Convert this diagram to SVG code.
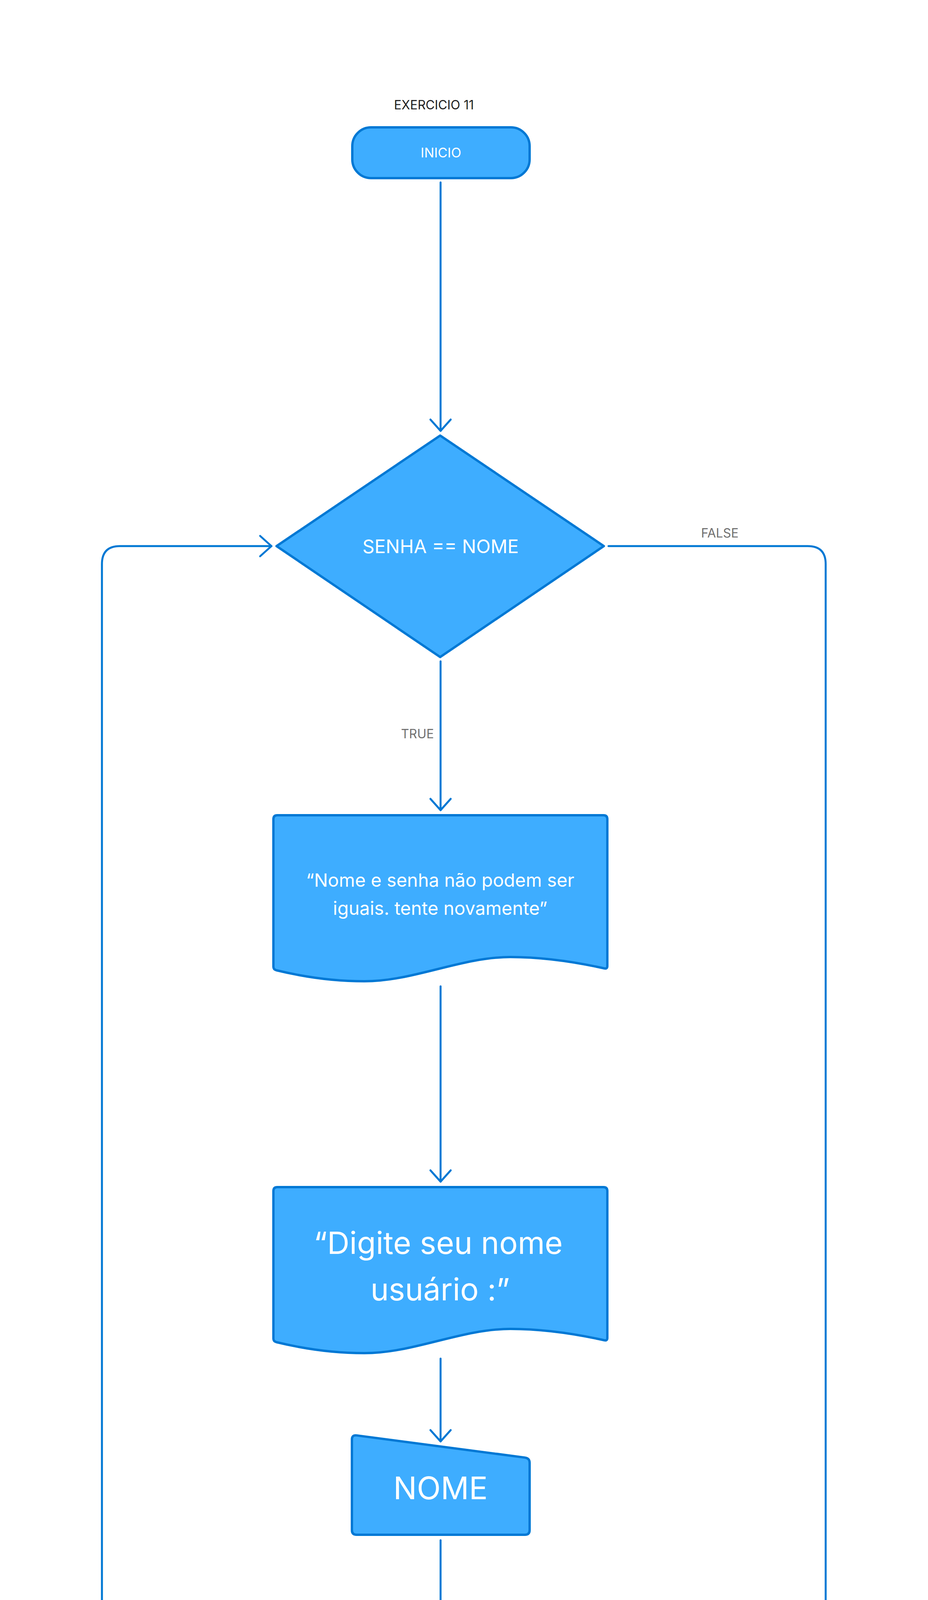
<svg xmlns="http://www.w3.org/2000/svg" width="2376" height="6852" viewBox="0 0 2376 6852">
<style>
.shape{fill:#3eadff;stroke:#0078d4;stroke-width:6;stroke-linejoin:round}
.conn{fill:none;stroke:#0078d4;stroke-width:5;stroke-linecap:round;stroke-linejoin:round}
.t{font-family:Inter,"Liberation Sans",sans-serif;fill:#ffffff;text-anchor:middle}
.lbl{font-family:Inter,"Liberation Sans",sans-serif;fill:#707070;font-size:32px}
.title{font-family:Inter,"Liberation Sans",sans-serif;fill:#1e1e1e;font-size:32px;text-anchor:middle}
</style>
<defs>
<marker id="arr" markerUnits="userSpaceOnUse" markerWidth="80" markerHeight="80" viewBox="-40 -40 80 80" refX="0" refY="0" orient="auto" overflow="visible">
<path d="M -29,-26 L 0,0 L -29,26" fill="none" stroke="#0078d4" stroke-width="5" stroke-linecap="round" stroke-linejoin="round"/>
</marker>
<path id="doc" d="M 0,10 Q 0,0 10,0 H 845 Q 855,0 855,10 V 386 Q 855,394 847,392 C 770,375 690,363 607,363 C 480,363 360,425 233,425 C 150,425 70,412 8,397 Q 0,395 0,388 Z"/>
<path id="inp" d="M 0,12 Q 0,0 12,1.6 L 443,58.4 Q 455,60 455,72 V 244 Q 455,256 443,256 H 12 Q 0,256 0,244 Z"/>
</defs>
<rect width="2376" height="6852" fill="#ffffff"/>
<text class="title" x="1111" y="280">EXERCICIO 11</text>
<g id="connectors">
<path class="conn" d="M 1128,467 V 1103" marker-end="url(#arr)"/>
<path class="conn" d="M 1128,1693 V 2074" marker-end="url(#arr)"/>
<path class="conn" d="M 1128,2525 V 3025" marker-end="url(#arr)"/>
<path class="conn" d="M 1128,3478 V 3690" marker-end="url(#arr)"/>
<path class="conn" d="M 1128,3943 V 4247" marker-end="url(#arr)"/>
<path class="conn" d="M 1128,4701 V 4945" marker-end="url(#arr)"/>
<path class="conn" d="M 887,5055 H 307 Q 261,5055 261,5009 V 1444 Q 261,1398 307,1398 H 695" marker-end="url(#arr)"/>
<path class="conn" d="M 1558,1398 H 2068 Q 2114,1398 2114,1444 V 5330 Q 2114,5376 2068,5376 H 1281 Q 1235,5376 1235,5422 V 5637" marker-end="url(#arr)"/>
<path class="conn" d="M 1235,6093 V 6445" marker-end="url(#arr)"/>
<text class="lbl" x="1111" y="1890" text-anchor="end">TRUE</text>
<text class="lbl" x="1843" y="1376" text-anchor="middle">FALSE</text>
</g>
<g id="inicio">
<rect class="shape" x="902" y="326" width="454" height="130" rx="48"/>
<text class="t" x="1129" y="403" font-size="34">INICIO</text>
</g>
<g id="decisao">
<polygon class="shape" points="708,1398 1127,1115 1546,1398 1127,1682"/>
<text class="t" x="1128" y="1416" font-size="48">SENHA == NOME</text>
</g>
<g id="msg-erro">
<use href="#doc" class="shape" transform="translate(700,2087)"/>
<text class="t" x="1127" y="2270" font-size="47">“Nome e senha não podem ser</text>
<text class="t" x="1127" y="2342" font-size="47">iguais. tente novamente”</text>
</g>
<g id="msg-nome">
<use href="#doc" class="shape" transform="translate(700,3039)"/>
<text class="t" x="1122" y="3210" font-size="79">“Digite seu nome</text>
<text class="t" x="1127" y="3329" font-size="79">usuário :”</text>
</g>
<g id="nome">
<use href="#inp" class="shape" transform="translate(901,3673)"/>
<text class="t" x="1128" y="3838" font-size="80">NOME</text>
</g>
<g id="msg-senha">
<use href="#doc" class="shape" transform="translate(700,4261)"/>
<text class="t" x="1127" y="4492" font-size="79">“Digite sua senha :”</text>
</g>
<g id="senha">
<use href="#inp" class="shape" transform="translate(901,4929)"/>
<text class="t" x="1129" y="5093" font-size="80">SENHA</text>
</g>
<g id="msg-sucesso">
<use href="#doc" class="shape" transform="translate(808,5654)"/>
<text class="t" x="1225" y="5822" font-size="79">"Logado com</text>
<text class="t" x="1235" y="5943" font-size="79">sucesso!\n"</text>
</g>
<g id="fim">
<rect class="shape" x="1012" y="6462" width="450" height="131" rx="46"/>
<text class="t" x="1237" y="6541" font-size="36">FIM</text>
</g>
</svg>
